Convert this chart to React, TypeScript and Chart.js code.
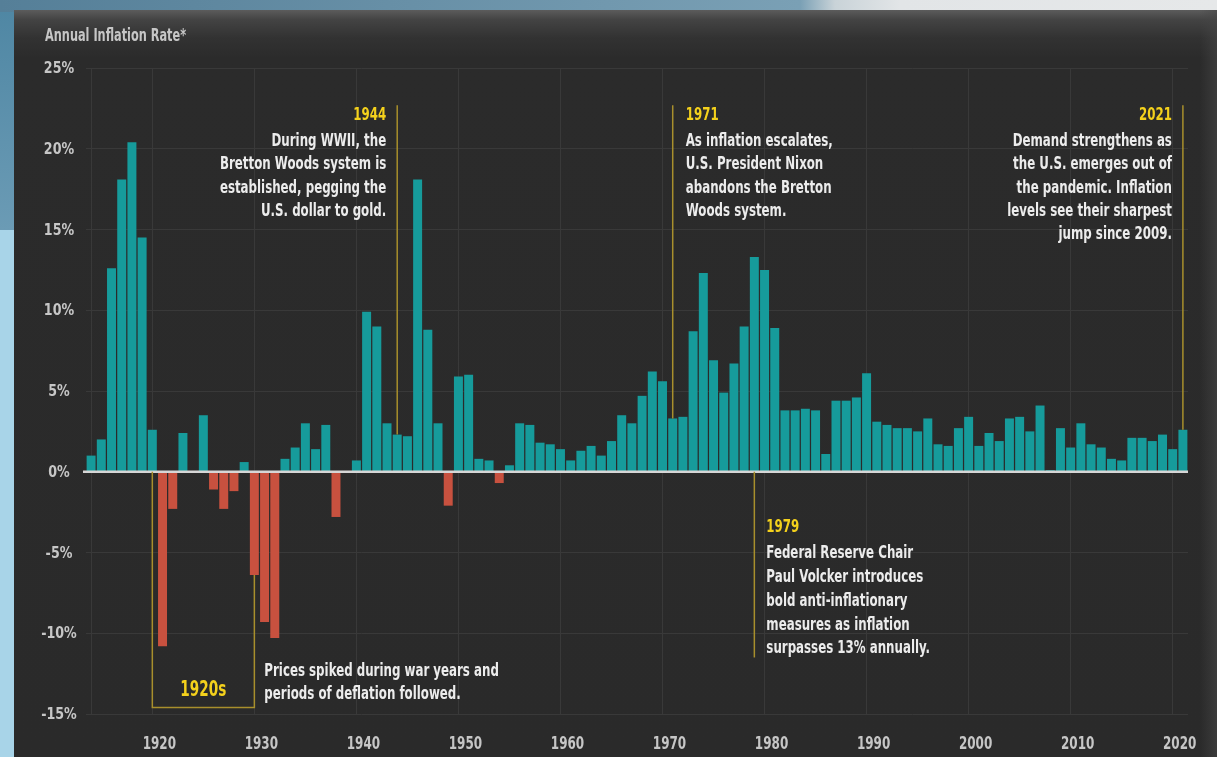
import React, { useEffect, useRef } from 'react';
import { Chart, registerables } from 'chart.js';

Chart.register(...registerables);

// ---- data ----
const years: number[] = [
  1914, 1915, 1916, 1917, 1918, 1919, 1920, 1921, 1922, 1923,
  1924, 1925, 1926, 1927, 1928, 1929, 1930, 1931, 1932, 1933,
  1934, 1935, 1936, 1937, 1938, 1939, 1940, 1941, 1942, 1943,
  1944, 1945, 1946, 1947, 1948, 1949, 1950, 1951, 1952, 1953,
  1954, 1955, 1956, 1957, 1958, 1959, 1960, 1961, 1962, 1963,
  1964, 1965, 1966, 1967, 1968, 1969, 1970, 1971, 1972, 1973,
  1974, 1975, 1976, 1977, 1978, 1979, 1980, 1981, 1982, 1983,
  1984, 1985, 1986, 1987, 1988, 1989, 1990, 1991, 1992, 1993,
  1994, 1995, 1996, 1997, 1998, 1999, 2000, 2001, 2002, 2003,
  2004, 2005, 2006, 2007, 2008, 2009, 2010, 2011, 2012, 2013,
  2014, 2015, 2016, 2017, 2018, 2019, 2020, 2021,
];

const inflation: number[] = [
  1.0, 2.0, 12.6, 18.1, 20.4, 14.5, 2.6, -10.8, -2.3, 2.4,
  0.0, 3.5, -1.1, -2.3, -1.2, 0.6, -6.4, -9.3, -10.3, 0.8,
  1.5, 3.0, 1.4, 2.9, -2.8, 0.0, 0.7, 9.9, 9.0, 3.0,
  2.3, 2.2, 18.1, 8.8, 3.0, -2.1, 5.9, 6.0, 0.8, 0.7,
  -0.7, 0.4, 3.0, 2.9, 1.8, 1.7, 1.4, 0.7, 1.3, 1.6,
  1.0, 1.9, 3.5, 3.0, 4.7, 6.2, 5.6, 3.3, 3.4, 8.7,
  12.3, 6.9, 4.9, 6.7, 9.0, 13.3, 12.5, 8.9, 3.8, 3.8,
  3.9, 3.8, 1.1, 4.4, 4.4, 4.6, 6.1, 3.1, 2.9, 2.7,
  2.7, 2.5, 3.3, 1.7, 1.6, 2.7, 3.4, 1.6, 2.4, 1.9,
  3.3, 3.4, 2.5, 4.1, 0.1, 2.7, 1.5, 3.0, 1.7, 1.5,
  0.8, 0.7, 2.1, 2.1, 1.9, 2.3, 1.4, 2.6,
];

const yTickValues: number[] = [-15, -10, -5, 0, 5, 10, 15, 20, 25];
const decadeLabels: number[] = [1920, 1930, 1940, 1950, 1960, 1970, 1980, 1990, 2000, 2010, 2020];

const titleText = 'Annual Inflation Rate*';

const note1944Year = 1944;
const note1944Lines = ['During WWII, the', 'Bretton Woods system is', 'established, pegging the', 'U.S. dollar to gold.'];
const note1971Year = 1971;
const note1971Lines = ['As inflation escalates,', 'U.S. President Nixon', 'abandons the Bretton', 'Woods system.'];
const note2021Year = 2021;
const note2021Lines = ['Demand strengthens as', 'the U.S. emerges out of', 'the pandemic. Inflation', 'levels see their sharpest', 'jump since 2009.'];
const note1979Year = 1979;
const note1979Lines = ['Federal Reserve Chair', 'Paul Volcker introduces', 'bold anti-inflationary', 'measures as inflation', 'surpasses 13% annually.'];
const bracketStart = 1920;
const bracketEnd = 1930;
const bracketLabel = '1920s';
const bracketLines = ['Prices spiked during war years and', 'periods of deflation followed.'];

// ---- style ----
const FONT = "'Liberation Sans Narrow', 'DejaVu Sans Condensed', 'Roboto', sans-serif";
const TEAL = '#169b9b';
const RED = '#c8513f';
const YELLOW = '#f4d11c';
const GOLD_LINE = '#a88f2c';
const TEXT = '#ececec';
const AXIS_TEXT = '#c6c6c6';
const GRID = '#393939';
const SX = 0.73;

function condensedText(ctx: CanvasRenderingContext2D, text: string, x: number, y: number, align: CanvasTextAlign, sx = SX) {
  ctx.save();
  ctx.translate(x, y);
  ctx.scale(sx, 1);
  ctx.textAlign = align;
  ctx.fillText(text, 0, 0);
  ctx.restore();
}

const notesPlugin = {
  id: 'notes',
  afterDatasetsDraw(chart: any) {
    const ctx: CanvasRenderingContext2D = chart.ctx;
    const xs = chart.scales.x;
    const ys = chart.scales.y;
    const area = chart.chartArea;
    const xOf = (yr: number) => xs.getPixelForValue(years.indexOf(yr));
    const valOf = (yr: number) => inflation[years.indexOf(yr)];
    const y0 = ys.getPixelForValue(0);

    ctx.save();
    // zero line
    ctx.strokeStyle = '#d6d6d6';
    ctx.lineWidth = 2.5;
    ctx.beginPath();
    ctx.moveTo(area.left - 3, y0);
    ctx.lineTo(area.right, y0);
    ctx.stroke();

    ctx.textBaseline = 'middle';

    // axis tick labels
    ctx.fillStyle = AXIS_TEXT;
    ctx.font = `bold 16px ${FONT}`;
    yTickValues.forEach((v) => condensedText(ctx, `${v}%`, 59, ys.getPixelForValue(v) + 1, 'center', 0.88));
    ctx.font = `bold 18px ${FONT}`;
    decadeLabels.forEach((yr) => condensedText(ctx, String(yr), xOf(yr) + 7, area.bottom + 30, 'center', 0.74));

    // title
    ctx.font = `bold 17px ${FONT}`;
    condensedText(ctx, titleText, 45, 37, 'left', 0.74);

    const topAnchor = ys.getPixelForValue(22.7);
    const lineGap = 23.4;

    const drawUpper = (yr: number, lines: string[], side: 'left' | 'right') => {
      const lx = xOf(yr);
      ctx.strokeStyle = GOLD_LINE;
      ctx.lineWidth = 1.5;
      ctx.beginPath();
      ctx.moveTo(lx, topAnchor);
      ctx.lineTo(lx, ys.getPixelForValue(valOf(yr)));
      ctx.stroke();
      const tx = side === 'left' ? lx + 13 : lx - 11;
      const align: CanvasTextAlign = side === 'left' ? 'left' : 'right';
      ctx.font = `bold 18px ${FONT}`;
      ctx.fillStyle = YELLOW;
      condensedText(ctx, String(yr), tx, topAnchor + 10, align);
      ctx.fillStyle = TEXT;
      lines.forEach((t, i) => condensedText(ctx, t, tx, topAnchor + 36 + i * lineGap, align));
    };

    drawUpper(note1944Year, note1944Lines, 'right');
    drawUpper(note1971Year, note1971Lines, 'left');
    drawUpper(note2021Year, note2021Lines, 'right');

    // 1979 note below the axis
    const x79 = xOf(note1979Year);
    ctx.strokeStyle = GOLD_LINE;
    ctx.lineWidth = 1.5;
    ctx.beginPath();
    ctx.moveTo(x79, y0);
    ctx.lineTo(x79, ys.getPixelForValue(-11.5));
    ctx.stroke();
    const t79 = ys.getPixelForValue(-3.45);
    ctx.font = `bold 18px ${FONT}`;
    ctx.fillStyle = YELLOW;
    condensedText(ctx, String(note1979Year), x79 + 12, t79, 'left');
    ctx.fillStyle = TEXT;
    note1979Lines.forEach((t, i) => condensedText(ctx, t, x79 + 12, t79 + 26 + i * 23.8, 'left'));

    // 1920s bracket
    const bx1 = xOf(bracketStart);
    const bx2 = xOf(bracketEnd);
    const by = ys.getPixelForValue(-14.6);
    ctx.strokeStyle = GOLD_LINE;
    ctx.lineWidth = 1.5;
    ctx.beginPath();
    ctx.moveTo(bx1, y0);
    ctx.lineTo(bx1, by);
    ctx.lineTo(bx2, by);
    ctx.lineTo(bx2, ys.getPixelForValue(valOf(bracketEnd)));
    ctx.stroke();
    ctx.font = `bold 21px ${FONT}`;
    ctx.fillStyle = YELLOW;
    condensedText(ctx, bracketLabel, (bx1 + bx2) / 2, by - 17, 'center', 0.72);
    ctx.font = `bold 18px ${FONT}`;
    ctx.fillStyle = TEXT;
    bracketLines.forEach((t, i) => condensedText(ctx, t, bx2 + 10, by - 36 + i * 23, 'left'));

    ctx.restore();
  },
};

export default function App() {
  const canvasRef = useRef<HTMLCanvasElement | null>(null);

  useEffect(() => {
    if (!canvasRef.current) return;
    const chart = new Chart(canvasRef.current, {
      type: 'bar',
      data: {
        labels: years.map(String),
        datasets: [
          {
            data: inflation,
            backgroundColor: inflation.map((v) => (v >= 0 ? TEAL : RED)),
            borderWidth: 0,
            barPercentage: 0.88,
            categoryPercentage: 1,
          },
        ],
      },
      options: {
        animation: false,
        responsive: true,
        maintainAspectRatio: false,
        layout: { padding: { top: 68, right: 29, bottom: 0, left: 0 } },
        plugins: {
          legend: { display: false },
          tooltip: { enabled: false },
          title: { display: false },
        },
        scales: {
          x: {
            type: 'category',
            offset: true,
            border: { display: false },
            grid: {
              offset: false,
              drawTicks: false,
              color: (c: any) => {
                const yr = years[c.index];
                return yr !== undefined && (decadeLabels.includes(yr) || c.index === 0) ? GRID : 'rgba(0,0,0,0)';
              },
            },
            ticks: {
              display: false,
              autoSkip: false,
              maxRotation: 0,
              minRotation: 0,
            },
            afterFit: (s: any) => {
              s.height = 43;
            },
          },
          y: {
            min: -15,
            max: 25,
            border: { display: false },
            grid: { color: GRID, drawTicks: false },
            afterBuildTicks: (s: any) => {
              s.ticks = yTickValues.map((v) => ({ value: v }));
            },
            ticks: { display: false },
            afterFit: (s: any) => {
              s.width = 86;
            },
          },
        },
      },
      plugins: [notesPlugin],
    });
    return () => chart.destroy();
  }, []);

  return (
    <div style={{ position: 'fixed', left: 0, top: 0, width: 1217, height: 757, overflow: 'hidden', background: '#a8d4e8' }}>
      <div style={{ position: 'absolute', left: 0, top: 0, width: 14, height: 230, background: 'linear-gradient(180deg, #4e86a3 0%, #6b9bb5 100%)' }} />
      <div style={{ position: 'absolute', left: 0, top: 0, width: 1217, height: 12, background: 'linear-gradient(90deg, #557f98 0px, #7aa0b5 800px, #c9d3d8 835px, #e2e5e7 900px, #e6e8e9 1217px)' }} />
      <div
        style={{
          position: 'absolute',
          left: 14,
          top: 10,
          width: 1203,
          height: 747,
          background: 'linear-gradient(180deg, #5c5c5c 0px, #434343 10px, #323232 28px, #2b2b2b 48px, #2a2a2a 100%)',
        }}
      />
      <div style={{ position: 'absolute', left: 1200, top: 10, width: 17, height: 747, background: 'linear-gradient(90deg, rgba(42,42,42,0) 0%, rgba(70,70,70,0.6) 100%)' }} />
      <div style={{ position: 'absolute', left: 0, top: 0, width: 1217, height: 757 }}>
        <canvas ref={canvasRef} />
      </div>
    </div>
  );
}
